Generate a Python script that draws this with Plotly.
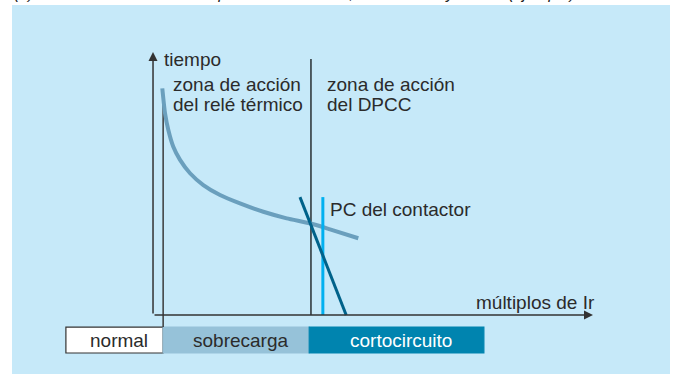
import plotly.graph_objects as go

# curva del relé térmico (unidades arbitrarias: x = múltiplos de Ir, y = tiempo)
termico_x = [2.11, 2.73, 3.48, 4.61, 6.14, 8.41, 11.43, 15.23, 19.77, 25.07, 30.39, 35.68, 40.23, 46.66]
termico_y = [86.5, 77.0, 70.6, 64.2, 59.2, 54.1, 49.6, 45.8, 42.6, 39.4, 36.9, 35.0, 32.7, 29.3]

# curva del DPCC (recta)
dpcc_x = [33.4, 43.9]
dpcc_y = [45.0, 0.0]

# poder de corte del contactor
pc_x = [38.6, 38.6]
pc_y = [45.0, 0.0]

# límites
limite_termico_x = [2.3, 2.3]
limite_termico_y = [81.6, -4.6]
limite_zonas_x = [35.9, 35.9]
limite_zonas_y = [97.7, 0.0]

# franja inferior
franja_labels = ["normal", "sobrecarga", "cortocircuito"]
franja_inicio = [-19.8, 2.3, 35.5]
franja_fin = [2.3, 35.5, 75.2]
franja_colores = ["white", "#96c2d9", "#0084af"]
franja_texto = ["#2b2b2b", "#2b2b2b", "white"]
franja_y = [-4.6, -14.5]

txt = "#2b2b2b"
fuente = "Liberation Sans, Arial, sans-serif"

fig = go.Figure()

fig.add_trace(go.Scatter(x=limite_termico_x, y=limite_termico_y, mode="lines",
                         line=dict(color="#3a3a3a", width=1.5), cliponaxis=False))
fig.add_trace(go.Scatter(x=limite_zonas_x, y=limite_zonas_y, mode="lines",
                         line=dict(color="black", width=1.2)))
fig.add_trace(go.Scatter(x=termico_x, y=termico_y, mode="lines",
                         line=dict(color="#6a9fbd", width=4, shape="spline", smoothing=0.6)))
fig.add_trace(go.Scatter(x=pc_x, y=pc_y, mode="lines",
                         line=dict(color="#00b0f0", width=3)))
fig.add_trace(go.Scatter(x=dpcc_x, y=dpcc_y, mode="lines",
                         line=dict(color="#00628a", width=3)))

shapes = []
for lab, x0, x1, c in zip(franja_labels, franja_inicio, franja_fin, franja_colores):
    borde = "#333333" if lab == "normal" else c
    shapes.append(dict(type="rect", xref="x", yref="y", x0=x0, x1=x1,
                       y0=franja_y[1], y1=franja_y[0], fillcolor=c,
                       line=dict(color=borde, width=1.2), layer="below"))

anns = []
for lab, x0, x1, tc in zip(franja_labels, franja_inicio, franja_fin, franja_texto):
    anns.append(dict(x=(x0 + x1) / 2 + 1.0, y=sum(franja_y) / 2, text=lab, showarrow=False,
                     font=dict(size=19, color=tc, family=fuente)))

# ejes con flecha
anns.append(dict(x=0, y=100.4, ax=0, ay=0, axref="x", ayref="y", text="",
                 showarrow=True, arrowhead=2, arrowsize=1.2, arrowwidth=1.5, arrowcolor="#333333"))
anns.append(dict(x=100, y=0, ax=0, ay=0, axref="x", ayref="y", text="",
                 showarrow=True, arrowhead=2, arrowsize=1.2, arrowwidth=1.5, arrowcolor="#333333"))

textos = [
    ("tiempo", 2.1, 97.6),
    ("zona de acción", 4.1, 87.8),
    ("del relé térmico", 4.1, 80.5),
    ("zona de acción", 39.0, 87.8),
    ("del DPCC", 39.0, 80.5),
    ("PC del contactor", 39.8, 40.4),
    ("múltiplos de Ir", 73.0, 4.6),
]
for t, x, y in textos:
    anns.append(dict(x=x, y=y, text=t, showarrow=False, xanchor="left", yanchor="middle",
                     font=dict(size=19, color=txt, family=fuente)))

# pie de figura recortado en el borde superior, como en el original
anns.append(dict(x=0.0, y=1.032, xref="paper", yref="paper", xanchor="left", yanchor="middle",
                 text="<i>(b) Curvas de coordinación tipo 2 con contactor, relé térmico y DPCC (ejemplo) en serie</i>",
                 showarrow=False, font=dict(size=16, color="#222222", family=fuente)))

fig.update_layout(
    width=674, height=374,
    margin=dict(l=12, r=4, t=5, b=0),
    paper_bgcolor="white",
    plot_bgcolor="#c6e9f9",
    showlegend=False,
    shapes=shapes,
    annotations=anns,
    xaxis=dict(range=[-32.05, 117.5], visible=False, fixedrange=True),
    yaxis=dict(range=[-22.52, 118.32], visible=False, fixedrange=True),
)

fig.write_html("out.html", config={"displayModeBar": False},
               post_script="document.body.style.margin='0';")
